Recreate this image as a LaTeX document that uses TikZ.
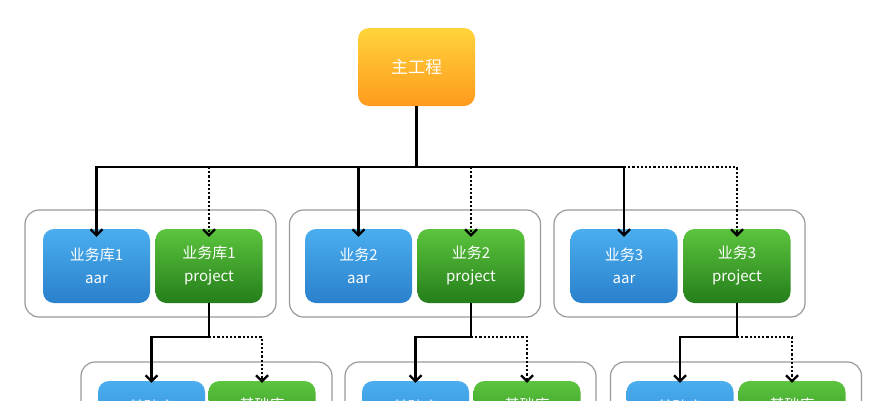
\documentclass[tikz,border=0pt]{standalone}
\usepackage{fontspec}
\setmainfont{Noto Sans CJK SC}
\usetikzlibrary{arrows.meta}
\definecolor{bt}{HTML}{4AAEEE}
\definecolor{bb}{HTML}{2A80CC}
\definecolor{gt}{HTML}{5CC43E}
\definecolor{gb}{HTML}{247E1A}
\definecolor{ot}{HTML}{FFD43A}
\definecolor{ob}{HTML}{FF9A1E}
\begin{document}
\begin{tikzpicture}[x=1pt,y=-1pt,
  lbox/.style={rounded corners=11pt,minimum width=107pt,minimum height=74pt,text=white,font=\fontsize{15}{23}\selectfont,align=center,inner sep=0pt},
  bluebox/.style={lbox,top color=bt,bottom color=bb},
  greenbox/.style={lbox,top color=gt,bottom color=gb},
  grp/.style={draw=gray!80,line width=1.2pt,rounded corners=14pt,minimum width=251pt,minimum height=107pt,inner sep=0pt},
  sol/.style={line width=2.2pt,-{Straight Barb[length=6pt,width=12pt]}},
  dot/.style={line width=2.2pt,dotted,-{Straight Barb[length=6pt,width=12pt]}}]
\useasboundingbox (0,0) rectangle (892,400);
\begin{scope}
\clip (0,0) rectangle (892,400);
\node[lbox,minimum width=117pt,minimum height=78pt,top color=ot,bottom color=ob,font=\fontsize{17}{20}\selectfont] (main) at (416.5,67) {主工程};
\coordinate (j) at (416.5,167);
\foreach \i/\gx/\bx/\gr/\lab in {1/150.5/96.5/209/业务库1,2/415/358.5/471/业务2,3/679.5/624/737/业务3}{
  \node[grp] (g\i) at (\gx,263.5) {};
  \node[bluebox] (b\i) at (\bx,266) {\lab\\aar};
  \node[greenbox] (p\i) at (\gr,266) {\lab\\project};
}
\draw[line width=2.2pt] (main.south) -- (j);
\draw[sol] (j) -| ([yshift=-8pt]b1.north);
\draw[sol] (j) -| ([yshift=-8pt]b2.north);
\draw[sol] (j) -| ([yshift=-8pt]b3.north);
\coordinate (d1) at (209,167);
\coordinate (d2) at (471,167);
\coordinate (d3) at (624,167);
\draw[dot] (d1) -- ([yshift=-8pt]p1.north);
\draw[dot] (d2) -- ([yshift=-8pt]p2.north);
\draw[dot] (d3) -| ([yshift=-8pt]p3.north);
\foreach \i/\gx/\bx/\gr in {1/206.5/151.5/262,2/470.5/415.5/527,3/736/680/792}{
  \node[grp] (h\i) at (\gx,415.5) {};
  \node[bluebox] (c\i) at (\bx,418) {基础库\\aar};
  \node[greenbox] (q\i) at (\gr,418) {基础库\\project};
  \coordinate (k\i) at (p\i.south |- 0,337);
  \draw[line width=2.2pt] (p\i.south) -- (k\i);
  \draw[sol] (k\i) -| ([yshift=-2pt]c\i.north);
  \draw[dot] (k\i) -| ([yshift=-2pt]q\i.north);
}
\end{scope}
\end{tikzpicture}
\end{document}
